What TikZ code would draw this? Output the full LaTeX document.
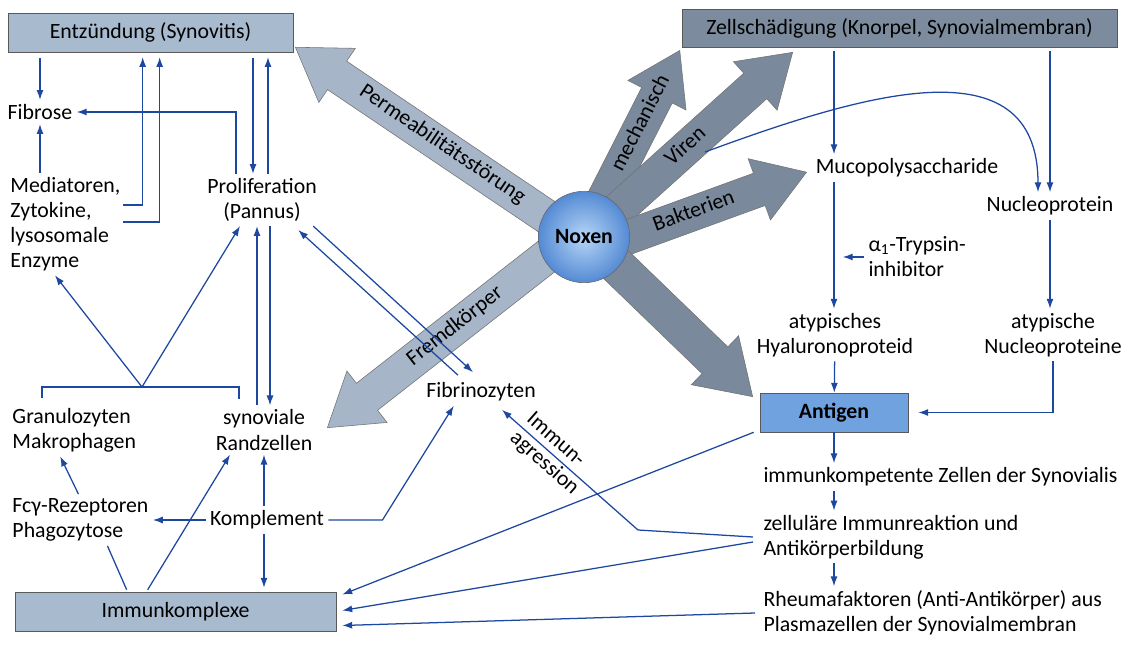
\documentclass[tikz,border=0pt]{standalone}
\usepackage{fontspec}
\setmainfont{Carlito}
\usetikzlibrary{arrows.meta,positioning,calc,shapes.arrows}

\definecolor{linkblue}{RGB}{30,72,160}
\definecolor{boxlight}{RGB}{168,186,206}
\definecolor{boxdark}{RGB}{124,140,158}
\definecolor{antblue}{RGB}{112,162,224}
\definecolor{fatlight}{RGB}{166,181,199}
\definecolor{fatdark}{RGB}{122,137,155}
\definecolor{noxin}{RGB}{182,214,246}
\definecolor{noxout}{RGB}{84,138,212}

\begin{document}
\begin{tikzpicture}[x=0.025cm, y=-0.025cm, >={Latex[length=7pt,width=5pt]},
      font=\fontsize{15.5}{17.8}\selectfont,
      lbl/.style={align=center, inner sep=3pt},
      lblL/.style={align=left, inner sep=3pt, anchor=west},
      hbox/.style={draw=black!65, fill=boxlight, minimum height=9.75mm},
      fat/.style={single arrow, draw=black!55, fill=fatdark, single arrow tip angle=66,
                  single arrow head extend=11pt, text height=9pt, text depth=3pt,
                  inner ysep=6pt, inner xsep=2pt, anchor=tip},
      fatL/.style={fat, fill=fatlight},
      blu/.style={draw=linkblue, line width=0.9pt}]
  \useasboundingbox (0,0) rectangle (1127,657);

  % thick arrows from the Noxen
  \node[fatL, rotate=-34, shape border rotate=180, minimum height=232pt] (perm) at (295,47) {Permeabilitätsstörung};
  \node[fat, rotate=63, minimum height=135pt] (mech) at (680,50) {\hspace*{36pt}mechanisch};
  \node[fat, rotate=42, minimum height=184pt] (viren) at (793,52) {Viren};
  \node[fat, rotate=20, minimum height=151pt] (bakt) at (807,172) {Bakterien};
  \node[fat, rotate=-44, minimum height=151pt, text height=11pt] (agarr) at (753,397) {};
  \node[fatL, rotate=38, shape border rotate=180, minimum height=213pt] (fremd) at (327,428) {Fremdkörper};
  \node[circle, draw=black!60, minimum size=65pt, inner color=noxin, outer color=noxout,
        font=\bfseries\fontsize{15.5}{17}\selectfont] (noxen) at (584,237) {Noxen};

  % boxes
  \node[hbox, minimum width=71.25mm] (entz) at (150.5,32.5) {Entzündung (Synovitis)};
  \node[hbox, fill=boxdark, minimum width=108.75mm, minimum height=9.5mm] (zell) at (899.5,28) {Zellschädigung (Knorpel, Synovialmembran)};
  \node[hbox, minimum width=80.25mm] (imkx) at (175.5,611.5) {Immunkomplexe};
  \node[hbox, fill=antblue, minimum width=37mm, font=\bfseries\fontsize{15.5}{17}\selectfont] (antigen) at (834,412.5) {Antigen};

  % left part
  \node[lbl]  (fibrose) at (40,112)  {Fibrose};
  \node[lblL] (mediat)  at (6,224)   {Mediatoren,\\Zytokine,\\lysosomale\\Enzyme};
  \node[lbl]  (prolif)  at (262,200) {Proliferation\\(Pannus)};
  \node[lblL] (granulo) at (8,430)   {Granulozyten\\Makrophagen};
  \node[lbl]  (synov)   at (264,430) {synoviale\\Randzellen};
  \node[lblL] (fcg)     at (8,520)   {Fcγ-Rezeptoren\\Phagozytose};
  \node[lbl]  (kompl)   at (267,520) {Komplement};
  \node[lbl]  (fibrino) at (481,392) {Fibrinozyten};

  % right part
  \node[lbl]  (mucopoly) at (907,168)  {Mucopolysaccharide};
  \node[lbl]  (nucleo)   at (1050,206) {Nucleoprotein};
  \node[lblL] (alpha)    at (864,257)  {α\textsubscript{1}-Trypsin-\\inhibitor};
  \node[lbl]  (atypH)    at (835,335)  {atypisches\\Hyaluronoproteid};
  \node[lbl]  (atypN)    at (1053,335) {atypische\\Nucleoproteine};
  \node[lblL] (immkomp)  at (759,477)  {immunkompetente Zellen der Synovialis};
  \node[lblL] (zellul)   at (759,537)  {zelluläre Immunreaktion und\\Antikörperbildung};
  \node[lblL] (rheuma)   at (759,613)  {Rheumafaktoren (Anti-Antikörper) aus\\Plasmazellen der Synovialmembran};

  % connectors, left
  \draw[blu,->, shorten <=1.5mm] (entz.south -| fibrose) -- (fibrose);
  \draw[blu,->] (mediat.north -| fibrose) -- (fibrose);
  \draw[blu,->, shorten >=1.2mm] ($(mediat.west)+(117,-19)$) -| ($(entz.south west)+(135,0)$);
  \draw[blu,->, shorten >=1.2mm] ($(mediat.west)+(117,-2)$) -| ($(entz.south west)+(152,0)$);
  \draw[blu,->, shorten <=1.5mm] ($(entz.south -| prolif)+(-9,0)$) -- ($(prolif.north)+(-9,0)$);
  \draw[blu,->, shorten >=1.2mm] ($(prolif.north)+(6,0)$) -- ($(entz.south -| prolif)+(6,0)$);
  \draw[blu,->] ($(prolif.north)+(-26,0)$) |- (fibrose);
  \coordinate (fork) at (142,387);
  \draw[blu] ($(granulo.north west)+(34,-6)$) |- (fork) -| ($(synov.north)+(-25,-6)$);
  \draw[blu,->] (fork) -- ($(mediat.south west)+(49,0)$);
  \draw[blu,->] (fork) -- ($(prolif.south)+(-22,0)$);
  \draw[blu,->] ($(synov.north -| prolif)+(-5,0)$) -- ($(prolif.south)+(-5,0)$);
  \draw[blu,->] ($(prolif.south)+(8,0)$) -- ($(synov.north -| prolif)+(8,0)$);
  \draw[blu,->] ($(prolif.south east)+(-8,0)$) -- ($(fibrino.north)+(-8,-6)$);
  \draw[blu,->] ($(fibrino.north)+(-23,-3)$) -- ($(prolif.south east)+(-23,4)$);
  \draw[blu,->] (kompl.north -| synov) -- (synov);
  \draw[blu,->, shorten >=1mm] (kompl.south -| synov) -- (imkx.north -| synov);
  \draw[blu,->] (kompl) -- (fcg);
  \draw[blu,->] ($(fcg.north)+(-2,0)$) -- ($(granulo.south)+(-14,0)$);
  \draw[blu] ($(imkx.north west)+(112,-2)$) -- ($(fcg.south)+(27,0)$);
  \draw[blu,->] ($(imkx.north west)+(133,-2)$) -- ($(synov.south)+(-34,0)$);
  \draw[blu,->] (kompl.east) -- ++(54,0) -- ($(fibrino.south west)+(32,0)$);

  % connectors, right
  \draw[blu,->, shorten <=1mm] (zell.south -| antigen) -- (mucopoly.north -| antigen);
  \draw[blu,->] (mucopoly.south -| antigen) -- (atypH.north -| antigen);
  \draw[blu,->] (atypH) -- (antigen);
  \draw[blu,->] (antigen) -- (immkomp.north -| antigen);
  \draw[blu,->] (immkomp.south -| antigen) -- (zellul.north -| antigen);
  \draw[blu,->] (zellul.south -| antigen) -- (rheuma.north -| antigen);
  \draw[blu,->, shorten >=2.2mm] (alpha.west) -- (alpha.west -| antigen);
  \draw[blu,->, shorten <=1mm] (zell.south -| nucleo) -- (nucleo);
  \draw[blu,->] (nucleo) -- (atypN.north -| nucleo);
  \draw[blu,->, shorten >=2.5mm] (atypN) |- (antigen);
  \coordinate (virfoot) at (705,152);
  \draw[blu,->] (virfoot) .. controls (860,95) and (1038,40) .. ($(nucleo.north)+(-12,0)$);

  % towards the Immunkomplexe
  \draw[blu,->] ($(antigen.south west)+(-6,0)$) -- ($(imkx.east)+(6,-17)$);
  \draw[blu,->] ($(zellul.west)+(-6,0)$) -- (638,530)
        -- node[sloped, align=left, pos=.63]{Immun-\\agression} ($(fibrino.south)+(21,4)$);
  \draw[blu,->] ($(zellul.west)+(-6,5)$) -- ($(imkx.east)+(6,-1)$);
  \draw[blu,->] ($(rheuma.west)+(-4,0)$) -- ($(imkx.east)+(6,14)$);
\end{tikzpicture}
\end{document}
